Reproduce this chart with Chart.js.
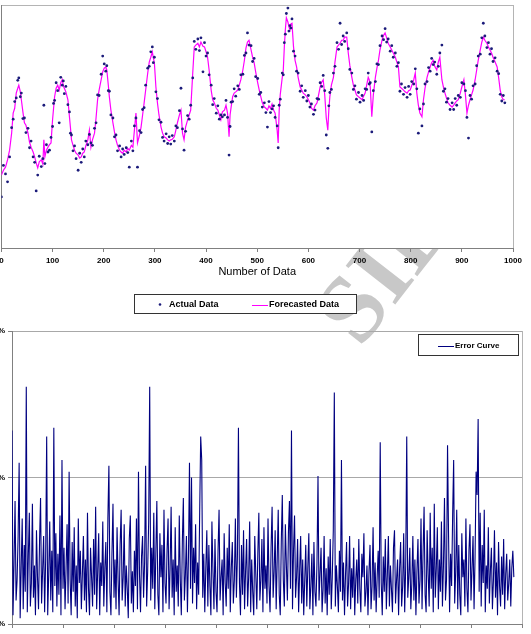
<!DOCTYPE html>
<html>
<head>
<meta charset="utf-8">
<script src="https://cdn.jsdelivr.net/npm/chart.js@4.4.1/dist/chart.umd.min.js"></script>
<style>
    html, body { margin: 0; padding: 0; background: #fff; }
    body { width: 531px; height: 634px; overflow: hidden; position: relative; }
    #marca { position: absolute; left: 384px; top: 266px; font: bold 96px "Liberation Serif", serif; color: #c8c8c8;
             transform: translate(-50%, -50%) rotate(-52deg); white-space: nowrap; }
    #grafico-previsao { position: absolute; left: 0; top: 0; }
    #grafico-erro { position: absolute; left: -20px; top: 315px; }
</style>
</head>
<body>
<div id="marca">SID</div>
<canvas id="grafico-previsao" width="531" height="320"></canvas>
<canvas id="grafico-erro" width="551" height="340"></canvas>
<script>
// Número da amostra (eixo X do gráfico de cima)
const amostras = [
    0,4,8,12,16,20,23,26,29,32, 34,37,39,42,45,48,52,55,58,62,
    65,68,71,74,78,81,83,85,88,91, 94,97,100,102,104,107,110,113,116,119,
    121,123,126,130,133,135,137,140,143,146, 150,153,156,159,162,165,169,172,175,178,
    182,185,188,191,195,198,201,204,206,209, 211,214,218,221,224,227,231,234,237,240,
    244,247,250,254,257,260,263,266,270,273, 276,279,282,286,289,292,295,297,299,302,
    305,308,312,315,318,322,325,328,331,334, 338,341,344,348,351,354,357,360,364,367,
    370,374,377,380,384,387,390,394,397,400, 403,406,410,413,416,420,423,426,429,432,
    436,439,442,445,447,449,452,455,458,462, 465,468,472,475,478,481,484,488,491,494,
    497,501,504,507,510,514,517,520,523,526, 529,532,535,539,541,543,545,549,551,553,
    555,557,560,562,564,566,568,571,574,577, 580,584,587,590,594,597,600,603,606,610,
    613,617,620,623,626,629,632,635,638,640, 642,645,649,652,656,659,662,665,668,671,
    675,678,681,685,688,691,694,698,701,705, 708,711,714,717,719,721,724,727,731,734,
    737,740,744,747,750,753,756,760,763,766, 770,773,776,779,782,786,789,793,796,799,
    802,806,809,812,815,818,822,825,828,832, 835,838,841,844,847,851,854,857,861,864,
    867,870,873,877,881,884,887,890,893,897, 900,904,907,910,913,916,919,922,926,929,
    932,936,939,942,945,949,952,955,958,961, 965,969,972,975,978,981,984
];

// Dados reais (pontos)
const dadosReais = [
    84,136,122,109,150,198,212,241,247,276, 280,249,255,213,214,190,197,165,176,150,
    141,94,120,151,134,147,235,139,170,158, 161,182,200,238,243,272,259,206,281,268,
    275,254,266,236,224,189,186,160,168,147, 128,156,141,163,150,176,170,187,173,169,
    197,206,252,251,286,316,303,291,300,259, 258,219,214,183,186,160,168,150,163,154,
    165,157,133,176,160,201,214,133,193,190, 228,231,268,296,299,323,331,305,314,257,
    246,211,207,182,176,188,172,183,171,185, 176,201,198,226,263,196,161,192,218,212,
    235,280,340,327,344,325,346,290,338,316, 321,285,268,236,246,222,234,212,219,216,
    219,243,215,153,200,240,241,262,250,267, 261,285,286,317,321,354,334,333,307,312,
    282,279,253,256,232,239,223,199,241,223, 229,234,215,201,165,235,245,288,285,338,
    352,386,395,357,366,362,377,324,316,291, 288,258,267,248,259,242,251,232,237,220,
    227,246,245,272,266,284,259,186,164,234, 256,261,288,299,338,327,370,335,349,340,
    354,328,294,288,261,267,245,256,240,251, 243,262,261,288,270,272,191,259,274,303,
    302,333,349,343,361,339,344,324,333,314, 321,299,305,258,270,253,264,248,266,253,
    274,270,295,262,189,229,201,237,270,274, 297,291,312,302,306,286,299,321,334,258,
    262,240,246,228,239,228,246,235,251,248, 272,270,259,215,181,251,245,267,270,300,
    316,319,346,370,349,330,338,319,328,307, 313,291,287,253,242,251,239
];

// Dados previstos (linha)
const dadosPrevistos = [
    120,128,133,145,161,189,222,230,255,263, 268,257,244,224,206,202,189,174,166,158,
    150,140,132,142,145,138,178,150,161,166, 170,173,211,230,249,263,268,260,272,277,
    267,263,257,244,216,198,178,169,161,156, 153,148,150,156,158,168,178,194,166,178,
    189,214,244,260,277,290,296,298,293,268, 249,227,206,191,178,169,161,158,156,161,
    158,164,161,169,166,194,222,173,186,199, 219,239,260,288,306,314,323,313,305,265,
    239,219,199,189,183,181,178,176,178,179, 183,194,206,219,227,189,178,199,211,219,
    227,288,331,334,337,331,339,332,331,323, 314,293,260,244,239,230,227,219,211,224,
    227,235,222,183,219,232,249,255,257,260, 268,277,293,309,329,339,342,326,314,305,
    290,272,260,249,239,232,230,227,234,230, 237,227,222,194,173,227,252,281,293,331,
    359,379,372,364,359,369,370,331,309,298, 281,265,260,255,252,249,244,239,230,227,
    234,239,252,265,273,277,252,214,194,227, 249,268,281,306,331,334,337,342,342,347,
    347,321,301,281,268,260,252,249,247,244, 250,255,268,281,277,265,216,252,281,296,
    309,326,342,350,354,346,337,331,326,321, 314,306,298,265,263,260,257,255,259,260,
    267,277,288,255,235,222,216,244,263,281, 290,298,305,309,299,293,306,314,277,265,
    255,247,239,235,232,235,239,242,244,255, 265,277,252,222,235,244,252,260,277,293,
    309,326,339,347,342,337,331,326,321,314, 306,298,280,260,249,244,244
];

// Erro percentual, uma amostra a cada duas (0, 2, 4, ... 984)
const passoErro = 2;
const erroPercentual = [
    6.6,0.3,2.1,4.2,0.8,1.5,3.0,5.5,0.2,1.9, 3.6,0.5,2.7,1.1,8.1,0.4,2.3,3.8,0.6,1.4,
    4.1,0.9,2.0,0.3,3.2,1.6,0.5,2.8,4.3,0.7, 1.8,3.0,0.4,2.2,6.4,0.3,1.7,3.5,0.8,2.5,
    0.4,6.7,1.3,3.1,0.6,2.4,1.0,3.7,0.3,5.6, 1.2,2.6,0.5,1.9,3.4,0.7,5.2,1.5,0.3,2.8,
    1.1,3.3,0.6,2.0,0.2,3.6,1.4,2.5,0.5,1.7, 3.0,0.8,2.2,0.4,3.8,1.2,0.3,2.6,1.6,0.6,
    2.9,1.0,4.0,0.5,1.8,3.1,0.3,2.1,1.3,3.5, 0.6,1.9,2.8,0.4,3.6,5.4,1.1,0.3,2.4,4.1,
    0.9,2.2,0.5,3.3,1.5,0.3,2.7,3.9,0.8,1.6, 3.4,0.6,2.0,1.2,0.2,2.9,3.7,0.7,1.8,0.4,
    2.5,1.3,3.6,0.5,5.2,1.7,0.4,2.3,3.0,0.9, 2.1,5.4,0.6,1.8,3.5,8.1,0.8,2.6,1.2,3.8,
    0.5,2.4,4.2,1.0,0.3,3.1,1.6,2.7,0.4,3.9, 1.4,0.7,2.5,3.6,0.5,1.9,4.0,0.9,2.2,0.3,
    3.3,1.1,2.0,0.6,3.7,1.5,0.3,2.8,4.3,0.8, 1.7,3.0,0.4,2.3,5.5,1.2,5.0,0.7,2.6,1.4,
    3.4,0.5,2.1,1.0,3.8,6.4,5.6,0.9,2.4,0.4, 1.9,3.2,0.6,2.7,1.3,0.3,3.5,1.8,0.5,2.9,
    1.1,0.4,2.5,3.9,0.8,1.6,2.2,0.3,3.1,1.4, 0.6,2.6,1.2,3.4,0.4,1.9,2.8,0.7,1.5,3.6,
    0.9,2.3,6.7,1.4,0.3,2.7,1.0,3.2,0.5,1.8, 2.9,0.6,1.6,3.5,0.4,2.2,1.1,0.3,3.0,1.7,
    0.5,2.4,3.8,0.8,1.5,2.9,0.4,3.3,1.2,2.0, 0.7,3.6,1.3,0.4,2.6,4.0,0.9,1.8,3.2,0.5,
    2.2,3.9,1.0,0.3,2.8,4.4,1.5,0.6,3.4,2.0, 0.8,3.1,4.2,1.2,6.6,0.5,2.5,3.7,0.9,1.6,
    2.9,0.4,1.8,3.0,0.7,2.2,0.3,1.5,2.7,0.6, 1.9,3.1,0.5,1.3,2.4,0.3,2.8,1.1,0.6,2.1,
    5.05,0.8,1.7,2.6,0.4,1.2,3.0,0.7,1.9,0.3, 2.3,1.0,2.9,0.5,1.6,3.2,7.9,0.6,2.0,1.3,
    0.4,2.5,1.1,5.6,0.8,2.1,0.3,1.7,2.8,0.6, 1.4,3.0,0.5,1.9,0.9,2.6,0.3,1.5,2.2,0.7,
    2.9,1.2,0.4,2.4,1.6,3.1,0.6,1.1,2.0,0.3, 1.8,2.7,0.5,1.3,3.3,0.8,2.1,0.4,1.6,2.5,
    0.9,6.2,1.4,0.3,2.3,1.1,2.9,0.5,1.7,3.0, 0.6,2.0,1.2,0.4,2.6,3.2,0.7,1.5,2.2,0.3,
    1.9,2.8,0.6,1.3,3.1,0.4,2.0,6.4,0.9,1.6, 2.6,0.5,1.4,3.0,0.8,2.2,0.3,1.8,2.9,0.7,
    1.5,3.6,0.5,2.4,4.0,1.0,0.4,3.2,1.7,0.6, 3.8,1.2,2.6,0.4,4.1,0.9,1.9,3.3,0.5,2.2,
    1.1,3.5,0.6,2.0,4.3,0.8,1.5,6.1,3.0,0.4, 2.4,1.3,3.7,5.6,0.7,1.8,3.9,0.5,2.7,1.0,
    0.3,3.1,1.6,2.2,0.6,3.6,1.2,0.4,2.5,3.4, 0.8,1.9,3.0,0.5,2.3,5.2,4.4,7.0,1.1,3.8,
    0.6,2.7,1.4,3.9,0.4,2.0,1.2,3.3,0.7,1.8, 2.6,0.5,1.5,3.2,0.9,2.1,0.3,2.8,1.3,0.6,
    2.3,1.0,2.9,0.5,1.7,2.4,0.8,1.4,2.2,0.6, 1.9,2.5,1.6
];

Chart.defaults.font.family = 'Arial, "Liberation Sans", sans-serif';
Chart.defaults.color = '#000';

// Fundo branco e moldura cinza da área do gráfico
const moldura = {
    id: 'moldura',
    beforeDraw(chart, args, opts) {
        const a = chart.chartArea;
        const ctx = chart.ctx;
        ctx.save();
        if (opts.fundo) {
            ctx.fillStyle = '#fff';
            ctx.fillRect(a.left, a.top, a.right - a.left, a.bottom - a.top);
        }
        ctx.strokeStyle = '#b4b4b4';
        ctx.lineWidth = 1;
        ctx.strokeRect(Math.round(a.left) + 0.5, Math.round(a.top) + 0.5,
                       Math.round(a.right - a.left), Math.round(a.bottom - a.top));
        ctx.restore();
    }
};

// Legenda com caixa, no estilo do Excel
const caixaLegenda = {
    id: 'caixaLegenda',
    afterDraw(chart, args, o) {
        const ctx = chart.ctx;
        ctx.save();
        ctx.fillStyle = '#fff';
        ctx.fillRect(o.x, o.y, o.w, o.h);
        ctx.strokeStyle = '#333';
        ctx.lineWidth = 1;
        ctx.strokeRect(o.x + 0.5, o.y + 0.5, o.w, o.h);
        ctx.font = 'bold ' + o.tamanho + 'px Arial, "Liberation Sans", sans-serif';
        ctx.textBaseline = 'middle';
        const cy = o.y + o.h / 2 + 1;
        chart.data.datasets.forEach((ds, i) => {
            const mx = o.marcas[i];
            if (ds.showLine === false) {
                ctx.fillStyle = ds.backgroundColor;
                ctx.beginPath();
                ctx.arc(mx + 8, cy, 1.3, 0, Math.PI * 2);
                ctx.fill();
            } else {
                ctx.strokeStyle = ds.borderColor;
                ctx.beginPath();
                ctx.moveTo(mx, Math.round(cy) + 0.5);
                ctx.lineTo(mx + 16, Math.round(cy) + 0.5);
                ctx.stroke();
            }
            ctx.fillStyle = '#000';
            ctx.fillText(ds.label, mx + 17, cy);
        });
        ctx.restore();
    }
};

// Gráfico de cima: dados reais x previstos
new Chart(document.getElementById('grafico-previsao'), {
    type: 'scatter',
    data: {
        datasets: [{
            label: 'Actual Data',
            data: amostras.map((n, i) => ({ x: n, y: dadosReais[i] })),
            showLine: false,
            pointRadius: 1.4,
            pointHoverRadius: 1.4,
            backgroundColor: '#1b1b7a',
            borderWidth: 0
        }, {
            label: 'Forecasted Data',
            data: amostras.map((n, i) => ({ x: n, y: dadosPrevistos[i] })),
            showLine: true,
            borderColor: '#ff00ff',
            backgroundColor: '#ff00ff',
            borderWidth: 1.2,
            pointRadius: 0
        }]
    },
    options: {
        responsive: false,
        animation: false,
        layout: { padding: { left: 1, right: 18, top: 5, bottom: 40 } },
        plugins: {
            legend: { display: false },
            tooltip: { enabled: false },
            moldura: { fundo: true },
            caixaLegenda: { x: 134, y: 294, w: 222, h: 19, tamanho: 9, marcas: [152, 252] }
        },
        scales: {
            x: {
                type: 'linear', min: 0, max: 1000,
                ticks: { stepSize: 100, font: { size: 8, weight: 'bold' }, padding: 4, maxRotation: 0, callback: v => String(v) },
                grid: { drawOnChartArea: false, tickLength: 4, color: '#808080' },
                border: { color: '#808080' },
                title: { display: true, text: 'Number of Data', font: { size: 11 }, padding: { top: 0, bottom: 1 } },
                afterFit: a => { a.height = 32; a.paddingLeft = 0; a.paddingRight = 0; }
            },
            y: {
                min: 0, max: 400,
                ticks: { display: false, stepSize: 100 },
                grid: { display: false },
                border: { color: '#808080' },
                afterFit: a => { a.width = 0; a.paddingTop = 0; a.paddingBottom = 0; }
            }
        }
    },
    plugins: [moldura, caixaLegenda]
});

// Gráfico de baixo: curva do erro
new Chart(document.getElementById('grafico-erro'), {
    type: 'scatter',
    data: {
        datasets: [{
            label: 'Error Curve',
            data: erroPercentual.map((v, i) => ({ x: i * passoErro, y: v })),
            showLine: true,
            borderColor: '#000080',
            backgroundColor: '#000080',
            borderWidth: 1.1,
            pointRadius: 0
        }]
    },
    options: {
        responsive: false,
        animation: false,
        layout: { padding: { left: 9, right: 9, top: 16, bottom: 11 } },
        plugins: {
            legend: { display: false },
            tooltip: { enabled: false },
            moldura: { fundo: false },
            caixaLegenda: { x: 438, y: 19, w: 100, h: 21, tamanho: 8, marcas: [458] }
        },
        scales: {
            x: {
                type: 'linear', min: 0, max: 1000,
                ticks: { stepSize: 100, font: { size: 8, weight: 'bold' }, padding: 10, maxRotation: 0, callback: v => String(v) },
                grid: { drawOnChartArea: false, tickLength: 4, color: '#808080' },
                border: { color: '#808080' },
                afterFit: a => { a.height = 20; a.paddingLeft = 0; a.paddingRight = 0; }
            },
            y: {
                min: 0, max: 10,
                ticks: { stepSize: 5, font: { size: 8, weight: 'bold' }, padding: 3, callback: v => v + '%' },
                grid: { color: '#a8a8a8', tickColor: '#808080', tickLength: 4 },
                border: { color: '#808080' },
                afterFit: a => { a.width = 23; a.paddingTop = 0; a.paddingBottom = 0; }
            }
        }
    },
    plugins: [moldura, caixaLegenda]
});
</script>
</body>
</html>
